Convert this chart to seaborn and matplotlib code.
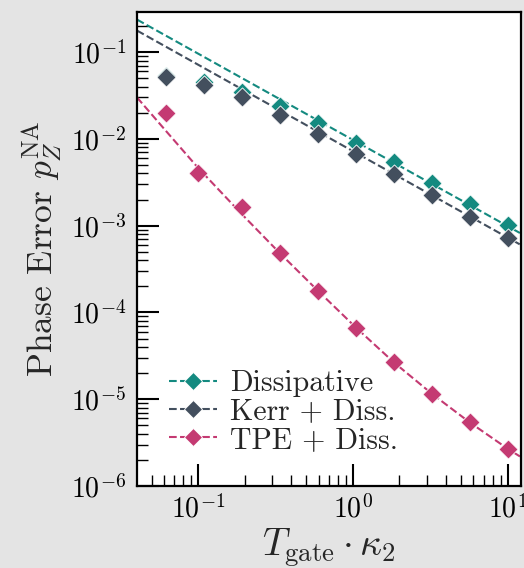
import numpy as np
import pandas as pd
import matplotlib
matplotlib.use("Agg")
import matplotlib.pyplot as plt
from matplotlib.lines import Line2D
from matplotlib.ticker import LogLocator, NullFormatter
import seaborn as sns

# Simulated gate times and phase errors
t_gate_diss_kerr = [0.062, 0.109, 0.192, 0.338, 0.594, 1.05, 1.84, 3.24, 5.69, 10.0]
t_gate_tpe = [0.062, 0.1, 0.192, 0.338, 0.594, 1.05, 1.84, 3.24, 5.69, 10.0]

p_dissipative = [0.053, 0.0454, 0.0346, 0.0242, 0.0152, 0.00906, 0.00538, 0.00313, 0.00178, 0.00102]
p_kerr_diss = [0.0515, 0.042, 0.0303, 0.0189, 0.0113, 0.00671, 0.00392, 0.00224, 0.00127, 7.16e-4]
p_tpe_diss = [0.0201, 0.0040, 0.00163, 4.8e-4, 1.78e-4, 6.67e-5, 2.65e-5, 1.14e-5, 5.39e-6, 2.67e-6]

# Fitted trend curves (sampled)
fit_t_power = [0.0403, 12.2]
fit_dissipative = [0.237, 8.1e-4]
fit_kerr_diss = [0.177, 5.98e-4]
fit_t_tpe = [0.0403, 0.0619, 0.1, 0.191, 0.338, 0.594, 1.05, 1.84, 3.24, 5.69, 10.0, 12.2]
fit_tpe_diss = [0.0300, 0.01237, 0.00463, 0.001364, 4.80e-4, 1.78e-4, 6.66e-5,
                2.66e-5, 1.155e-5, 5.40e-6, 2.69e-6, 2.15e-6]

labels = ["Dissipative", "Kerr + Diss.", "TPE + Diss."]
colors = ["#148a80", "#434f5e", "#c43a72"]

sns.set_theme(style="white")
plt.rcParams.update({
    "font.family": "serif",
    "font.serif": ["cmr10"],
    "mathtext.fontset": "cm",
    "axes.formatter.use_mathtext": True,
    "axes.unicode_minus": True,
})

fig = plt.figure(figsize=(5.24, 5.68), dpi=100)
fig.patch.set_facecolor("#e4e4e4")
ax = fig.add_axes([0.2615, 0.1444, 0.7328, 0.8345])
ax.set_facecolor("white")
ax.set_xscale("log")
ax.set_yscale("log")

fits = [(fit_t_power, fit_dissipative), (fit_t_power, fit_kerr_diss), (fit_t_tpe, fit_tpe_diss)]
points = [(t_gate_diss_kerr, p_dissipative), (t_gate_diss_kerr, p_kerr_diss), (t_gate_tpe, p_tpe_diss)]

for (fx, fy), col in zip(fits, colors):
    sns.lineplot(x=fx, y=fy, ax=ax, color=col, linestyle="--", linewidth=1.5,
                 sort=False, zorder=2, legend=False)

for i, ((px, py), col) in enumerate(zip(points, colors)):
    sns.scatterplot(x=px, y=py, ax=ax, color=col, marker="D", s=95,
                    edgecolor="white", linewidth=0.6, zorder=3 + i, legend=False)

ax.set_xlim(0.0403, 12.2)
ax.set_ylim(1e-6, 0.29)

ax.xaxis.set_major_locator(LogLocator(base=10, numticks=10))
ax.xaxis.set_minor_locator(LogLocator(base=10, subs=np.arange(2, 10), numticks=20))
ax.xaxis.set_minor_formatter(NullFormatter())
ax.yaxis.set_major_locator(LogLocator(base=10, numticks=10))
ax.yaxis.set_minor_locator(LogLocator(base=10, subs=np.arange(2, 10), numticks=20))
ax.yaxis.set_minor_formatter(NullFormatter())

ax.tick_params(which="both", direction="in", top=False, right=False,
               bottom=True, left=True, colors="black")
ax.tick_params(which="major", length=15.5, width=1.5, labelsize=20)
ax.tick_params(axis="x", which="major", pad=6)
ax.tick_params(axis="y", which="major", pad=8)
ax.tick_params(which="minor", length=8, width=1.0)

for sp in ax.spines.values():
    sp.set_visible(True)
    sp.set_color("black")
    sp.set_linewidth(1.6)

ax.set_xlabel(r"$T_{\mathrm{gate}} \cdot \kappa_2$", fontsize=27.5, labelpad=2)
ax.set_ylabel(r"Phase Error $p_Z^{\mathrm{NA}}$", fontsize=25.5, labelpad=5)

handles = [Line2D([0], [0], color=c, linestyle="--", linewidth=1.5, marker="D",
                  markersize=9.5, markeredgecolor="white", markeredgewidth=0.6)
           for c in colors]
ax.legend(handles, labels, loc="lower left", bbox_to_anchor=(0.083, 0.068),
          frameon=False, fontsize=21.5, handlelength=1.6, handletextpad=0.45,
          labelspacing=0.03, borderaxespad=0.0, borderpad=0.0)

fig.savefig("out.png", dpi=100, facecolor=fig.get_facecolor())
